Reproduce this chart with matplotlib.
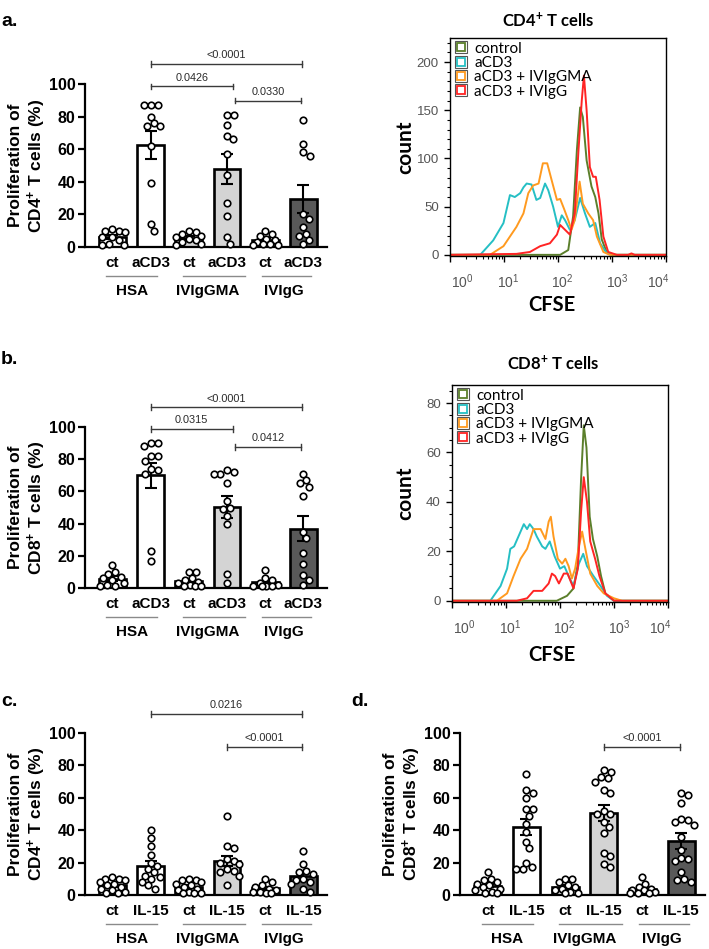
import numpy as np
import matplotlib
matplotlib.use('Agg')
import matplotlib.pyplot as plt
import matplotlib.transforms as mtrans
from matplotlib.lines import Line2D
from matplotlib.ticker import LogLocator, NullFormatter, MultipleLocator

plt.rcParams['font.family'] = ['Liberation Sans', 'DejaVu Sans']
plt.rcParams['mathtext.fontset'] = 'custom'
plt.rcParams['mathtext.rm'] = 'Liberation Sans'
plt.rcParams['mathtext.bf'] = 'Liberation Sans:bold'
plt.rcParams['mathtext.it'] = 'Liberation Sans:italic'
plt.rcParams['mathtext.default'] = 'regular'

# ---------------- data ----------------
groups = ['HSA', 'IVIgGMA', 'IVIgG']
cond_ab = ['ct', 'aCD3']
cond_cd = ['ct', 'IL-15']
group_fill = ['#ffffff', '#d4d4d4', '#595959']

# panel a: CD4+ proliferation, anti-CD3
a_HSA_ct = [11, 10, 10, 9, 6, 6, 4, 2, 1, 1]
a_HSA_aCD3 = [87, 87, 87, 80, 76, 74, 74, 62, 39, 14, 10]
a_GMA_ct = [10, 9, 8, 7, 6, 5, 4, 3, 2, 1]
a_GMA_aCD3 = [81, 81, 75, 68, 66, 57, 44, 27, 19, 6, 2]
a_IgG_ct = [10, 8, 7, 5, 4, 3, 2, 2, 1, 1]
a_IgG_aCD3 = [78, 63, 58, 56, 20, 17, 12, 8, 7, 4, 2]
a_pvals = ['<0.0001', '0.0426', '0.0330']

# panel b: CD8+ proliferation, anti-CD3
b_HSA_ct = [14, 10, 9, 7, 6, 5, 3, 2, 1, 1]
b_HSA_aCD3 = [90, 90, 88, 82, 82, 79, 74, 73, 71, 23, 17]
b_GMA_ct = [10, 10, 6, 5, 4, 3, 2, 1, 1, 1]
b_GMA_aCD3 = [73, 72, 71, 71, 65, 54, 50, 49, 45, 40, 9, 3]
b_IgG_ct = [11, 6, 5, 3, 2, 1, 1, 1, 1]
b_IgG_aCD3 = [71, 67, 65, 63, 57, 35, 31, 22, 15, 8, 5, 2]
b_pvals = ['<0.0001', '0.0315', '0.0412']

# panel c: CD4+ proliferation, IL-15
c_HSA_ct = [11, 10, 10, 9, 8, 7, 6, 5, 4, 3, 2, 1, 1]
c_HSA_IL15 = [40, 35, 30, 25, 20, 18, 16, 14, 12, 11, 10, 8, 6, 4]
c_GMA_ct = [10, 9, 9, 8, 7, 6, 5, 4, 3, 2, 1, 1, 1]
c_GMA_IL15 = [49, 30, 29, 22, 21, 20, 19, 16, 15, 14, 12, 6]
c_IgG_ct = [10, 8, 6, 5, 4, 3, 2, 2, 1, 1]
c_IgG_IL15 = [27, 19, 15, 14, 13, 10, 9, 8, 7, 4, 2]
c_pvals = ['0.0216', '<0.0001']

# panel d: CD8+ proliferation, IL-15
d_HSA_ct = [14, 10, 9, 8, 7, 6, 5, 4, 3, 2, 1, 1]
d_HSA_IL15 = [75, 65, 63, 60, 53, 53, 49, 44, 39, 33, 29, 20, 17, 16, 16]
d_GMA_ct = [10, 10, 8, 6, 5, 4, 3, 2, 1, 1]
d_GMA_IL15 = [77, 76, 73, 72, 70, 65, 63, 52, 50, 50, 45, 42, 38, 26, 24, 19, 17]
d_IgG_ct = [11, 7, 5, 4, 3, 3, 2, 1, 1, 1]
d_IgG_IL15 = [63, 62, 57, 47, 46, 45, 43, 36, 28, 23, 22, 21, 14, 10, 9, 8]
d_pvals = ['<0.0001']

# CFSE histograms (x = log10 CFSE, y = count)
hist_labels = ['control', 'aCD3', 'aCD3 + IVIgGMA', 'aCD3 + IVIgG']
hist_colors = ['#5b7f2b', '#25bfc4', '#ff9a1f', '#ff2424']
hist_decades = [0, 1, 2, 3, 4]

h4_ctrl_x = [0, 2.04, 2.19, 2.28, 2.35, 2.41, 2.46, 2.53, 2.62, 2.69, 2.75, 2.81, 2.9, 3.02, 4]
h4_ctrl_y = [0, 0, 5, 40, 109, 153, 143, 98, 71, 60, 43, 16, 3, 0, 0]
h4_aCD3_x = [0, 0.56, 0.8, 0.99, 1.11, 1.2, 1.3, 1.36, 1.42, 1.51, 1.6, 1.67, 1.76, 1.82, 1.91,
             2.0, 2.07, 2.13, 2.22, 2.31, 2.41, 2.5, 2.59, 2.69, 2.78, 2.9, 3.02, 4]
h4_aCD3_y = [0, 0, 15, 33, 62, 60, 64, 70, 74, 73, 57, 59, 74, 67, 50,
             29, 41, 36, 26, 36, 59, 43, 29, 33, 12, 2, 0, 0]
h4_GMA_x = [0, 0.74, 0.99, 1.23, 1.36, 1.45, 1.54, 1.64, 1.72, 1.8, 1.88, 1.98, 2.04, 2.11,
            2.19, 2.25, 2.31, 2.4, 2.46, 2.56, 2.65, 2.72, 2.84, 2.96, 4]
h4_GMA_y = [0, 0, 9, 29, 43, 64, 72, 74, 95, 95, 78, 57, 58, 48,
            36, 26, 36, 76, 53, 43, 36, 19, 3, 0, 0]
h4_IgG_x = [0, 1.23, 1.48, 1.67, 1.85, 1.98, 2.04, 2.13, 2.22, 2.31, 2.38, 2.44, 2.48, 2.53,
            2.59, 2.65, 2.7, 2.77, 2.84, 2.93, 3.09, 3.3, 3.36, 3.42, 4]
h4_IgG_y = [0, 1, 3, 9, 12, 21, 31, 26, 21, 43, 109, 160, 186, 150,
            91, 81, 81, 57, 19, 3, 0, 0, 1.5, 0, 0]

h8_ctrl_x = [0, 1.94, 2.13, 2.25, 2.33, 2.39, 2.44, 2.49, 2.55, 2.61, 2.69, 2.76, 2.84, 3.0, 4]
h8_ctrl_y = [0, 0, 2, 5, 15, 49, 71, 62, 34, 25, 18, 10, 3, 0, 0]
h8_aCD3_x = [0, 0.71, 0.9, 1.02, 1.08, 1.15, 1.23, 1.33, 1.39, 1.44, 1.51, 1.57, 1.67, 1.73, 1.81,
             1.9, 2.0, 2.08, 2.16, 2.25, 2.35, 2.43, 2.5, 2.62, 2.75, 2.87, 3.0, 4]
h8_aCD3_y = [0, 0, 6, 13, 21, 22, 26, 31, 29, 31, 29, 26, 22, 21, 24,
             18, 13, 14, 10, 6, 15, 19, 14, 10, 6, 2, 0, 0]
h8_GMA_x = [0, 0.83, 1.02, 1.14, 1.27, 1.39, 1.51, 1.64, 1.73, 1.79, 1.83, 1.88, 1.96, 2.04,
            2.1, 2.16, 2.22, 2.28, 2.35, 2.41, 2.47, 2.56, 2.69, 2.81, 3.0, 3.15, 4]
h8_GMA_y = [0, 0, 3, 10, 17, 21, 29, 29, 25, 32, 34, 26, 17, 15,
            17, 14, 9, 13, 22, 28, 21, 11, 6, 3, 1, 0, 0]
h8_IgG_x = [0, 1.2, 1.39, 1.51, 1.67, 1.79, 1.85, 1.91, 1.98, 2.07, 2.14, 2.25, 2.33, 2.39,
            2.44, 2.5, 2.56, 2.65, 2.73, 2.84, 3.0, 4]
h8_IgG_y = [0, 0, 1, 4, 4, 7, 11, 10, 7, 11, 11, 5, 13, 36,
            50, 40, 24, 17, 10, 3, 0, 0]

# ---------------- layout helpers ----------------
W, H = 709, 949
fig = plt.figure(figsize=(W / 100, H / 100), dpi=100)


def px_axes(l, t, r, b):
    return fig.add_axes([l / W, 1 - b / H, (r - l) / W, (b - t) / H])


def swarm(vals, xs, ys, d=7.0, maxpx=12.5, step=0.5):
    """Pack points horizontally (pixel space) inside +-maxpx; allow overlap if needed."""
    vals = np.asarray(vals, float)
    offs = np.zeros(len(vals))
    placed = []
    cands = np.arange(-maxpx, maxpx + 1e-9, step)
    cands = cands[np.argsort(np.abs(cands) + 1e-6 * (cands < 0))]
    for idx in np.argsort(-vals):
        yp = vals[idx] * ys
        best, bestd = 0.0, -1.0
        for xp in cands:
            md = min([np.hypot(xp - a, yp - b) for a, b in placed], default=1e9)
            if md >= d:
                best = xp
                break
            if md > bestd + 1e-9:
                best, bestd = xp, md
        placed.append((best, yp))
        offs[idx] = best / xs
    return offs


XL = (-0.72, 5.62)


def bar_panel(rect, series, conds, ylabel, brackets, letter, letter_xy):
    l, t, r, b = rect
    ax = px_axes(l, t, r, b)
    wpx, hpx = r - l, b - t
    pos = np.arange(6)
    fills = [group_fill[i // 2] for i in range(6)]
    means = [np.mean(s) for s in series]
    sems = [np.std(s, ddof=1) / np.sqrt(len(s)) for s in series]
    ax.bar(pos, means, width=0.7, color=fills, edgecolor='black', linewidth=1.9, zorder=2)
    ax.errorbar(pos, means, yerr=sems, fmt='none', ecolor='black', elinewidth=1.5,
                capsize=4.5, capthick=1.5, zorder=3)
    xs = wpx / (XL[1] - XL[0])
    ys = hpx / 100.0
    for p, s in zip(pos, series):
        offs = swarm(s, xs, ys)
        ax.scatter(p + offs, s, s=22, facecolor='white', edgecolor='black',
                   linewidth=1.2, zorder=4, clip_on=False)
    ax.set_xlim(*XL)
    ax.set_ylim(0, 100)
    for sp in ['top', 'right']:
        ax.spines[sp].set_visible(False)
    for sp in ['left', 'bottom']:
        ax.spines[sp].set_linewidth(1.6)
    ax.set_yticks([0, 20, 40, 60, 80, 100])
    ax.set_yticklabels(['0', '20', '40', '60', '80', '100'], fontsize=11.5, fontweight='bold')
    ax.tick_params(axis='y', length=5, width=1.6, pad=2)
    ax.set_xticks([])
    tr = mtrans.blended_transform_factory(ax.transData, ax.transAxes)
    for p in pos:
        ax.text(p, -16 / hpx, conds[p % 2], transform=tr, ha='center', va='center',
                fontsize=11, fontweight='bold')
    spans = [(-0.16, 1.17), (1.84, 3.47), (3.92, 5.2)]
    for gi, g in enumerate(groups):
        x0, x1 = spans[gi]
        ax.plot([x0, x1], [-29 / hpx, -29 / hpx], transform=tr, color='#8a8a8a', lw=1.0,
                clip_on=False)
        ax.text(2 * gi + 0.5, -44 / hpx, g, transform=tr, ha='center', va='center',
                fontsize=11, fontweight='bold')
    for (i, j, h, txt) in brackets:
        ax.plot([i, j], [h, h], color='#3a3a3a', lw=1.0, clip_on=False)
        for xx in (i, j):
            ax.plot([xx, xx], [h - 1.7, h + 1.7], color='#3a3a3a', lw=1.0, clip_on=False)
        ax.text((i + j) / 2, h + 5.3, txt, ha='center', va='center', fontsize=7.8,
                color='#2a2a2a')
    ax.text(-57 / wpx, 0.5, ylabel, transform=ax.transAxes, rotation=90, ha='center',
            va='center', fontsize=12.5, fontweight='bold', linespacing=1.15)
    fig.text(letter_xy[0] / W, 1 - letter_xy[1] / H, letter, fontsize=14, fontweight='bold',
             ha='left', va='center')
    return ax


LABEL_SHIFT = [0.22, 0.07, 0.07, 0.1, -0.15]   # FlowJo-style placement of decade labels


def hist_panel(rect, xs_list, ys_list, ylim, ymajor, yminor, title, title_xy, cfse_y):
    l, t, r, b = rect
    ax = px_axes(l, t, r, b)
    hpx = b - t
    for x, y, c in zip(xs_list, ys_list, hist_colors):
        ax.plot(10 ** np.asarray(x, float), y, color=c, lw=1.4)
    ax.set_xscale('log')
    ax.set_xlim(1, 1e4)
    ax.set_ylim(*ylim)
    ax.set_xticks([10.0 ** k for k in hist_decades], labels=[''] * len(hist_decades))
    ax.xaxis.set_minor_locator(LogLocator(base=10, subs=np.arange(2, 10), numticks=20))
    ax.xaxis.set_minor_formatter(NullFormatter())
    tr = mtrans.blended_transform_factory(ax.transData, ax.transAxes)
    for k, sh in zip(hist_decades, LABEL_SHIFT):
        ax.text(10.0 ** (k + sh), -26 / hpx, '10$^{%d}$' % k, transform=tr, ha='center',
                va='center', fontsize=10, color='#555555')
    ax.set_yticks(ymajor)
    ax.yaxis.set_minor_locator(MultipleLocator(yminor))
    ax.tick_params(which='major', direction='out', length=4.5, width=1, labelcolor='#555555',
                   labelsize=9.5)
    ax.tick_params(which='minor', direction='out', length=2.3, width=0.8)
    for sp in ax.spines.values():
        sp.set_linewidth(1.0)
    handles = []
    for c in hist_colors:
        outer = Line2D([], [], marker='s', ls='none', ms=9, mfc='white', mec='#555555', mew=0.8)
        inner = Line2D([], [], marker='s', ls='none', ms=6, mfc='none', mec=c, mew=1.3)
        handles.append((outer, inner))
    ax.legend(handles, hist_labels, loc='upper left', bbox_to_anchor=(0.0, 1.0), frameon=False,
              prop={'family': 'Lato', 'size': 11}, handlelength=0.9, handletextpad=0.45,
              labelspacing=0.02, borderaxespad=0.25, borderpad=0.0)
    fig.text(title_xy[0] / W, 1 - title_xy[1] / H, title, ha='center', va='center',
             fontsize=12, fontweight='bold', family='Lato')
    fig.text(405 / W, 1 - ((t + b) / 2) / H, 'count', rotation=90, ha='center', va='center',
             fontsize=15, fontweight='bold', family='Lato')
    fig.text(552 / W, 1 - cfse_y / H, 'CFSE', ha='center', va='center', fontsize=14.5,
             fontweight='bold', family='Lato')
    return ax


# ---------------- panels ----------------
bar_panel((85, 84, 327, 247),
          [a_HSA_ct, a_HSA_aCD3, a_GMA_ct, a_GMA_aCD3, a_IgG_ct, a_IgG_aCD3], cond_ab,
          'Proliferation of\nCD4$^{\\mathbf{+}}$ T cells (%)',
          [(1, 4.97, 112.3, a_pvals[0]), (1, 3.15, 98.5, a_pvals[1]), (3.22, 4.95, 89.8, a_pvals[2])],
          'a.', (1, 21))

bar_panel((85, 427, 327, 588),
          [b_HSA_ct, b_HSA_aCD3, b_GMA_ct, b_GMA_aCD3, b_IgG_ct, b_IgG_aCD3], cond_ab,
          'Proliferation of\nCD8$^{\\mathbf{+}}$ T cells (%)',
          [(1, 4.97, 112.4, b_pvals[0]), (1, 3.15, 98.8, b_pvals[1]), (3.22, 4.94, 87.6, b_pvals[2])],
          'b.', (1, 359))

bar_panel((85, 733, 327, 895),
          [c_HSA_ct, c_HSA_IL15, c_GMA_ct, c_GMA_IL15, c_IgG_ct, c_IgG_IL15], cond_cd,
          'Proliferation of\nCD4$^{\\mathbf{+}}$ T cells (%)',
          [(1, 4.97, 111.7, c_pvals[0]), (3.0, 4.97, 91.4, c_pvals[1])],
          'c.', (1, 701))

bar_panel((460, 733, 705, 895),
          [d_HSA_ct, d_HSA_IL15, d_GMA_ct, d_GMA_IL15, d_IgG_ct, d_IgG_IL15], cond_cd,
          'Proliferation of\nCD8$^{\\mathbf{+}}$ T cells (%)',
          [(3.0, 4.97, 91.4, d_pvals[0])],
          'd.', (351, 701))

hist_panel((450, 38, 666, 256),
           [h4_ctrl_x, h4_aCD3_x, h4_GMA_x, h4_IgG_x],
           [h4_ctrl_y, h4_aCD3_y, h4_GMA_y, h4_IgG_y],
           (-1.2, 225), [0, 50, 100, 150, 200], 10,
           'CD4$^{\\mathbf{+}}$ T cells', (548, 20), 305)

hist_panel((452, 385, 668, 602),
           [h8_ctrl_x, h8_aCD3_x, h8_GMA_x, h8_IgG_x],
           [h8_ctrl_y, h8_aCD3_y, h8_GMA_y, h8_IgG_y],
           (-0.5, 87.3), [0, 20, 40, 60, 80], 5,
           'CD8$^{\\mathbf{+}}$ T cells', (553, 363), 655)

fig.savefig('out.png', dpi=100)
